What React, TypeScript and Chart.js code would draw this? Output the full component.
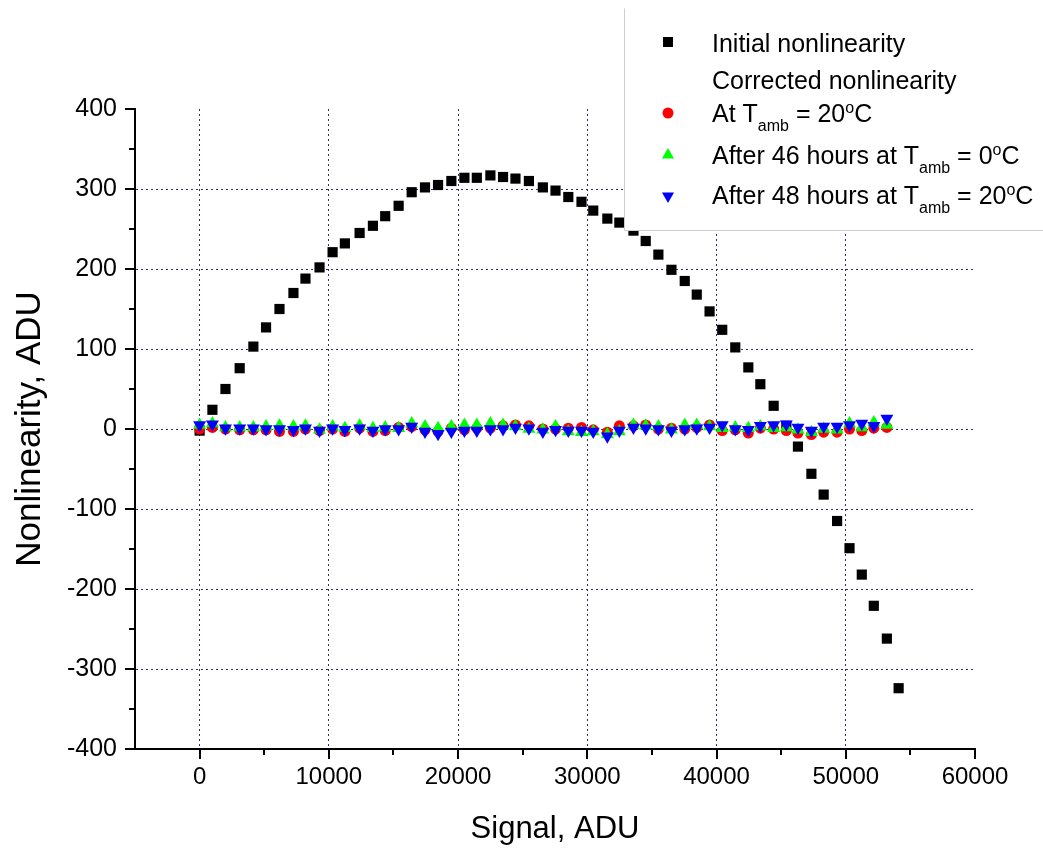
import React, { useEffect, useRef } from 'react';
import { Chart, registerables } from 'chart.js';

Chart.register(...registerables);

// ---- Data ----
const signalInitial = [
  0, 990, 2000, 3100, 4160, 5140, 6180, 7260, 8190, 9280,
  10290, 11240, 12380, 13410, 14360, 15400, 16410, 17440, 18450, 19480,
  20490, 21450, 22500, 23480, 24440, 25480, 26560, 27540, 28530, 29550,
  30460, 31550, 32480, 33570, 34520, 35500, 36510, 37540, 38470, 39460,
  40440, 41450, 42460, 43390, 44420, 45400, 46300, 47340, 48290, 49330,
  50290, 51240, 52170, 53180, 54090,
];
const initialNonlinearity = [
  -2, 24, 50, 76, 103, 127, 150, 170, 188, 202,
  221, 232, 245, 254, 266, 279, 296, 302, 305, 310,
  314, 314, 317, 315, 313, 310, 302, 298, 290, 284,
  273, 263, 258, 248, 235, 218, 199, 185, 168, 147,
  124, 102, 77, 56, 29, 4, -22, -56, -82, -115,
  -149, -182, -221, -262, -324,
];
const signalCorrected = [
  0, 990, 2000, 3100, 4160, 5140, 6180, 7260, 8190, 9280,
  10290, 11240, 12380, 13410, 14360, 15400, 16410, 17440, 18450, 19480,
  20490, 21450, 22500, 23480, 24440, 25480, 26560, 27540, 28530, 29550,
  30460, 31550, 32480, 33570, 34520, 35500, 36510, 37540, 38470, 39460,
  40440, 41450, 42460, 43390, 44420, 45400, 46300, 47340, 48290, 49330,
  50290, 51240, 52170, 53180,
];
const correctedAt20 = [
  0, 2, 0, -1, -1, -1, -3, -3, 0, -2,
  0, -3, 1, -3, -2, 2, 3, -1, -3, 1,
  -1, 1, 1, 4, 5, 4, 0, 0, 1, 2,
  -1, -4, 4, 4, 5, 0, 1, 0, 2, 5,
  -2, -1, -5, 1, 0, -2, -5, -7, -4, -4,
  0, -2, 1, 2,
];
const correctedAfter46h0 = [
  5, 7, 2, 2, 2, 3, 4, 3, 4, -1,
  3, 1, 4, 1, 2, 1, 7, 3, 1, 3,
  5, 5, 7, 5, 3, 0, -1, 3, -3, -4,
  -3, -7, -3, 5, 4, 3, -1, 5, 5, 3,
  1, 2, 1, 3, 1, 2, -1, -4, 0, -1,
  7, 2, 8, 5,
];
const correctedAfter48h20 = [
  5, 6, 1, 1, 1, 0, 0, -1, 1, -2,
  1, -1, 1, -2, 0, 0, 3, -3, -6, -3,
  -2, -2, 0, 0, 2, 1, -3, -1, -2, -2,
  -3, -9, -2, 2, 1, 0, -2, 0, 1, 2,
  5, 0, -1, 4, 5, 6, 2, -2, 3, 3,
  5, 7, 4, 13,
];

const xMin = -5000;
const xMax = 60000;
const yMin = -400;
const yMax = 400;

const FONT = '"Liberation Sans", Arial, sans-serif';
const GRID = '#30307a';

function pts(xs: number[], ys: number[]) {
  return xs.map((x, i) => ({ x, y: ys[i] }));
}

function drawTri(ctx: CanvasRenderingContext2D, x: number, y: number, r: number, down: boolean, color: string) {
  ctx.save();
  ctx.fillStyle = color;
  ctx.beginPath();
  const s = down ? -1 : 1;
  ctx.moveTo(x, y - s * r);
  ctx.lineTo(x + r * 0.866, y + s * r * 0.5);
  ctx.lineTo(x - r * 0.866, y + s * r * 0.5);
  ctx.closePath();
  ctx.fill();
  ctx.restore();
}

type Part = { t: string; sub?: boolean; sup?: boolean };
function drawRich(ctx: CanvasRenderingContext2D, parts: Part[], x: number, y: number) {
  let cx = x;
  for (const p of parts) {
    ctx.font = p.sub || p.sup ? `16px ${FONT}` : `25px ${FONT}`;
    const yy = p.sub ? y + 9 : p.sup ? y - 9 : y;
    ctx.fillText(p.t, cx, yy);
    cx += ctx.measureText(p.t).width;
  }
}

const tickPlugin = {
  id: 'customTicks',
  afterDraw(chart: any) {
    const ctx: CanvasRenderingContext2D = chart.ctx;
    const xs = chart.scales.x;
    const ys = chart.scales.y;
    const area = chart.chartArea;
    ctx.save();
    ctx.strokeStyle = '#000';
    ctx.lineWidth = 2;
    for (let v = 0; v <= xMax; v += 5000) {
      const px = Math.round(xs.getPixelForValue(v));
      const len = v % 10000 === 0 ? 10 : 6;
      ctx.beginPath();
      ctx.moveTo(px, area.bottom);
      ctx.lineTo(px, area.bottom + len);
      ctx.stroke();
    }
    for (let v = yMin; v <= yMax; v += 50) {
      const py = Math.round(ys.getPixelForValue(v));
      const len = v % 100 === 0 ? 10 : 6;
      ctx.beginPath();
      ctx.moveTo(area.left, py);
      ctx.lineTo(area.left - len, py);
      ctx.stroke();
    }
    ctx.restore();
  },
};

const legendPlugin = {
  id: 'customLegend',
  afterDraw(chart: any) {
    const ctx: CanvasRenderingContext2D = chart.ctx;
    ctx.save();
    const bx = 624.5, by = 8.5, bw = 1043 - 624, bh = 222;
    ctx.fillStyle = '#fff';
    ctx.fillRect(bx, by, bw, bh);
    ctx.strokeStyle = '#cfcfcf';
    ctx.lineWidth = 1;
    ctx.beginPath();
    ctx.moveTo(bx, by);
    ctx.lineTo(bx, by + bh);
    ctx.lineTo(bx + bw, by + bh);
    ctx.stroke();

    const mx = 668;
    ctx.fillStyle = '#000';
    ctx.fillRect(mx - 5, 42 - 5, 10, 10);
    ctx.fillStyle = '#ff0000';
    ctx.beginPath();
    ctx.arc(mx, 113, 5.5, 0, Math.PI * 2);
    ctx.fill();
    drawTri(ctx, mx, 155, 7, false, '#00ff00');
    drawTri(ctx, mx, 196, 7, true, '#0000ff');

    ctx.fillStyle = '#000';
    ctx.textAlign = 'left';
    ctx.textBaseline = 'alphabetic';
    const tx = 712;
    drawRich(ctx, [{ t: 'Initial nonlinearity' }], tx, 52);
    drawRich(ctx, [{ t: 'Corrected nonlinearity' }], tx, 89);
    drawRich(ctx, [{ t: 'At T' }, { t: 'amb', sub: true }, { t: ' = 20' }, { t: 'o', sup: true }, { t: 'C' }], tx, 122);
    drawRich(ctx, [{ t: 'After 46 hours at T' }, { t: 'amb', sub: true }, { t: ' = 0' }, { t: 'o', sup: true }, { t: 'C' }], tx, 164);
    drawRich(ctx, [{ t: 'After 48 hours at T' }, { t: 'amb', sub: true }, { t: ' = 20' }, { t: 'o', sup: true }, { t: 'C' }], tx, 204);
    ctx.restore();
  },
};

export default function App() {
  const ref = useRef<HTMLCanvasElement | null>(null);

  useEffect(() => {
    if (!ref.current) return;
    const chart = new Chart(ref.current, {
      type: 'scatter',
      data: {
        datasets: [
          {
            label: 'Initial nonlinearity',
            data: pts(signalInitial, initialNonlinearity),
            pointStyle: 'rect',
            pointRadius: 7.2,
            backgroundColor: '#000000',
            borderColor: '#000000',
            borderWidth: 0,
            order: 4,
          },
          {
            label: 'At Tamb = 20°C',
            data: pts(signalCorrected, correctedAt20),
            pointStyle: 'circle',
            pointRadius: 5.5,
            backgroundColor: '#ff0000',
            borderColor: '#ff0000',
            borderWidth: 0,
            order: 3,
          },
          {
            label: 'After 46 hours at Tamb = 0°C',
            data: pts(signalCorrected, correctedAfter46h0),
            pointStyle: 'triangle',
            pointRadius: 7.5,
            backgroundColor: '#00ff00',
            borderColor: '#00ff00',
            borderWidth: 0,
            order: 2,
          },
          {
            label: 'After 48 hours at Tamb = 20°C',
            data: pts(signalCorrected, correctedAfter48h20),
            pointStyle: 'triangle',
            rotation: 180,
            pointRadius: 7.5,
            backgroundColor: '#0000ff',
            borderColor: '#0000ff',
            borderWidth: 0,
            order: 1,
          },
        ],
      },
      options: {
        responsive: false,
        animation: false,
        devicePixelRatio: 1,
        layout: { padding: { top: 109, right: 68, left: 0, bottom: 0 } },
        plugins: {
          legend: { display: false },
          tooltip: { enabled: false },
        },
        scales: {
          x: {
            type: 'linear',
            min: xMin,
            max: xMax,
            afterFit: (s: any) => { s.height = 102; },
            ticks: {
              stepSize: 5000,
              autoSkip: false,
              maxRotation: 0,
              padding: 14,
              color: '#000',
              font: { family: FONT, size: 24 },
              callback: (v: any) => (Number(v) % 10000 === 0 ? String(v) : ''),
            },
            grid: {
              drawTicks: false,
              lineWidth: 1,
              color: (c: any) => {
                const v = c.tick ? c.tick.value : NaN;
                return v % 10000 === 0 && v > xMin && v < xMax ? GRID : 'rgba(0,0,0,0)';
              },
            },
            border: { display: true, color: '#000', width: 2, dash: [2, 3] },
            title: {
              display: true,
              text: 'Signal, ADU',
              color: '#000',
              font: { family: FONT, size: 31 },
              padding: { top: 0, bottom: 3 },
            },
          },
          y: {
            type: 'linear',
            min: yMin,
            max: yMax,
            afterFit: (s: any) => { s.width = 135; },
            ticks: {
              stepSize: 50,
              autoSkip: false,
              padding: 18,
              color: '#000',
              font: { family: FONT, size: 25 },
              callback: (v: any) => (Number(v) % 100 === 0 ? String(v) : ''),
            },
            grid: {
              drawTicks: false,
              lineWidth: 1,
              color: (c: any) => {
                const v = c.tick ? c.tick.value : NaN;
                return v % 100 === 0 && v > yMin && v < yMax ? GRID : 'rgba(0,0,0,0)';
              },
            },
            border: { display: true, color: '#000', width: 2, dash: [2, 3] },
            title: {
              display: true,
              text: 'Nonlinearity, ADU',
              color: '#000',
              font: { family: FONT, size: 35 },
              padding: { top: 9, bottom: 0 },
            },
          },
        },
      },
      plugins: [tickPlugin, legendPlugin],
    } as any);
    return () => chart.destroy();
  }, []);

  return (
    <div style={{ position: 'absolute', left: 0, top: 0, width: 1043, height: 851, background: '#fff' }}>
      <canvas ref={ref} width={1043} height={851} style={{ width: 1043, height: 851, display: 'block' }} />
    </div>
  );
}
